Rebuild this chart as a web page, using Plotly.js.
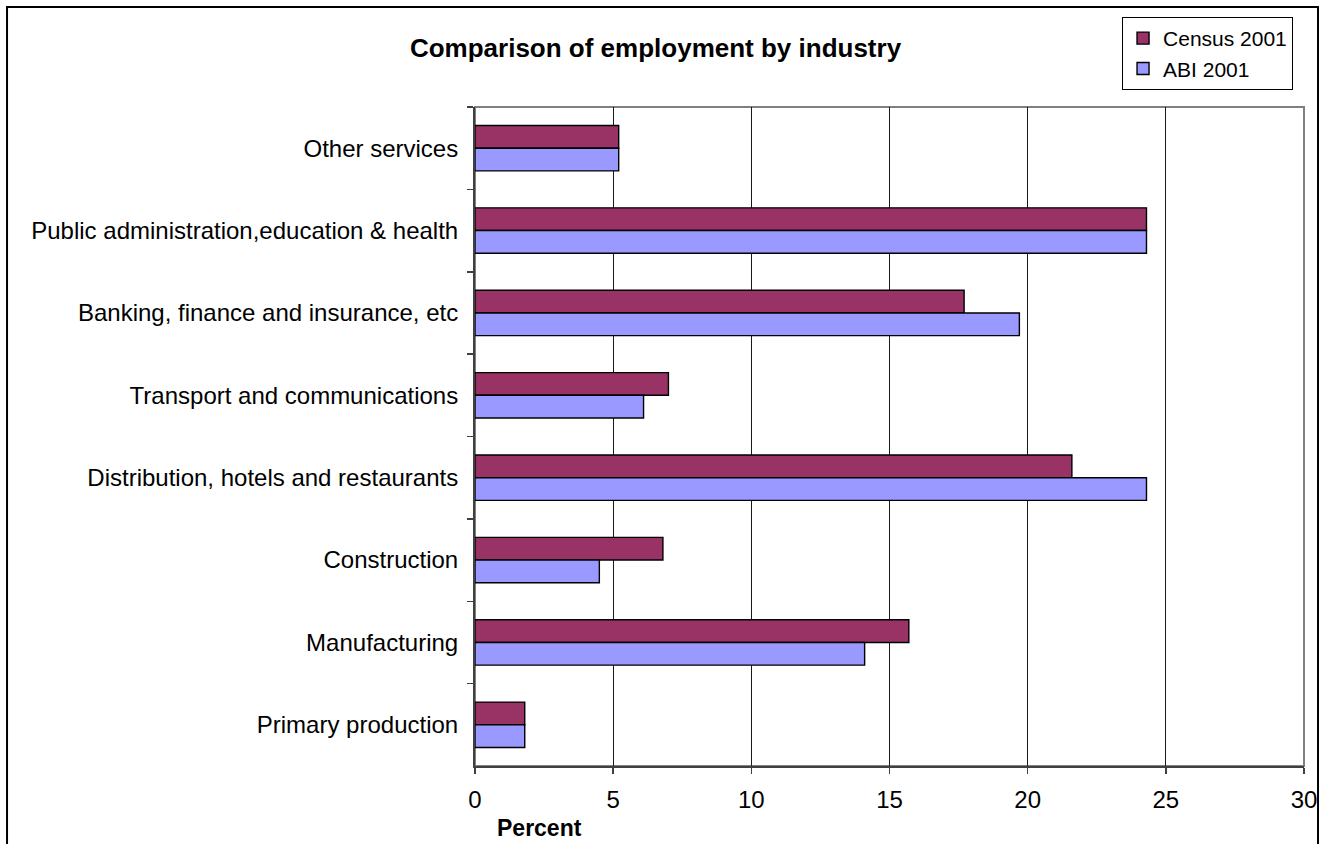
<!DOCTYPE html>
<html>
<head>
<meta charset="utf-8">
<script src="https://cdn.plot.ly/plotly-3.0.1.min.js"></script>
<style>
  html, body { margin: 0; padding: 0; background: #ffffff; }
  #chart { width: 1327px; height: 844px; }
</style>
</head>
<body>
<div id="chart"></div>
<script>
// Categories, listed top to bottom as they appear in the chart
const categories = [
  "Other services",
  "Public administration,education & health",
  "Banking, finance and insurance, etc",
  "Transport and communications",
  "Distribution, hotels and restaurants",
  "Construction",
  "Manufacturing",
  "Primary production"
];
const census2001 = [5.2, 24.3, 17.7, 7.0, 21.6, 6.8, 15.7, 1.8];
const abi2001    = [5.2, 24.3, 19.7, 6.1, 24.3, 4.5, 14.1, 1.8];
const xTickValues = [0, 5, 10, 15, 20, 25, 30];

const FONT = "Arial, 'Liberation Sans', sans-serif";

const traces = [
  {
    type: "bar",
    orientation: "h",
    name: "Census 2001",
    y: categories,
    x: census2001,
    marker: { color: "#993366", line: { color: "#000000", width: 1.4 } },
    hoverinfo: "x+y+name"
  },
  {
    type: "bar",
    orientation: "h",
    name: "ABI 2001",
    y: categories,
    x: abi2001,
    marker: { color: "#9999FF", line: { color: "#000000", width: 1.4 } },
    hoverinfo: "x+y+name"
  }
];

const layout = {
  width: 1327,
  height: 844,
  paper_bgcolor: "#ffffff",
  plot_bgcolor: "#ffffff",
  font: { family: FONT, color: "#000000", size: 24 },
  margin: { l: 475, r: 23, t: 107, b: 78, pad: 0 },
  barmode: "group",
  bargap: 0.448,
  bargroupgap: 0,
  showlegend: true,
  title: {
    text: "<b>Comparison of employment by industry</b>",
    font: { family: FONT, size: 26, color: "#000000" },
    xref: "container",
    yref: "container",
    x: 0.494,
    xanchor: "center",
    y: 0.9437,
    yanchor: "middle"
  },
  legend: {
    x: 0.7805,
    xanchor: "left",
    y: 1.1366,
    yanchor: "top",
    bgcolor: "#ffffff",
    bordercolor: "#000000",
    borderwidth: 1,
    font: { family: FONT, size: 21, color: "#000000" },
    traceorder: "normal"
  },
  xaxis: {
    range: [0, 30],
    tickmode: "array",
    tickvals: xTickValues,
    ticktext: xTickValues.map(String),
    showgrid: true,
    gridcolor: "#1a1a1a",
    gridwidth: 1,
    zeroline: false,
    showline: true,
    linecolor: "#404040",
    linewidth: 2,
    ticks: "outside",
    ticklen: 6,
    tickwidth: 1.5,
    tickcolor: "#404040",
    ticklabelstandoff: 5,
    tickfont: { family: FONT, size: 24, color: "#000000" },
    fixedrange: true
  },
  yaxis: {
    type: "category",
    categoryorder: "array",
    categoryarray: categories,
    autorange: "reversed",
    showgrid: false,
    zeroline: false,
    showline: true,
    linecolor: "#404040",
    linewidth: 2,
    ticks: "outside",
    tickson: "boundaries",
    ticklen: 6,
    tickwidth: 1.5,
    tickcolor: "#404040",
    ticklabelstandoff: 10,
    tickfont: { family: FONT, size: 24, color: "#000000" },
    fixedrange: true
  },
  shapes: [
    // plot area border (top & right appear grey)
    {
      type: "rect", xref: "paper", yref: "paper",
      x0: 0, x1: 1, y0: 0, y1: 1,
      line: { color: "#808080", width: 2 },
      layer: "below"
    },
    // outer chart border
    {
      type: "rect", xref: "paper", yref: "paper",
      x0: -0.5645, x1: 1.0169, y0: -0.14, y1: 1.1517,
      line: { color: "#000000", width: 2 },
      layer: "above"
    }
  ],
  annotations: [
    {
      text: "<b>Percent</b>",
      xref: "paper", yref: "paper",
      x: 0.0784, y: -0.094,
      xanchor: "center", yanchor: "middle",
      showarrow: false,
      font: { family: FONT, size: 23, color: "#000000" }
    }
  ]
};

Plotly.newPlot("chart", traces, layout, { displayModeBar: false, staticPlot: true });
</script>
</body>
</html>
